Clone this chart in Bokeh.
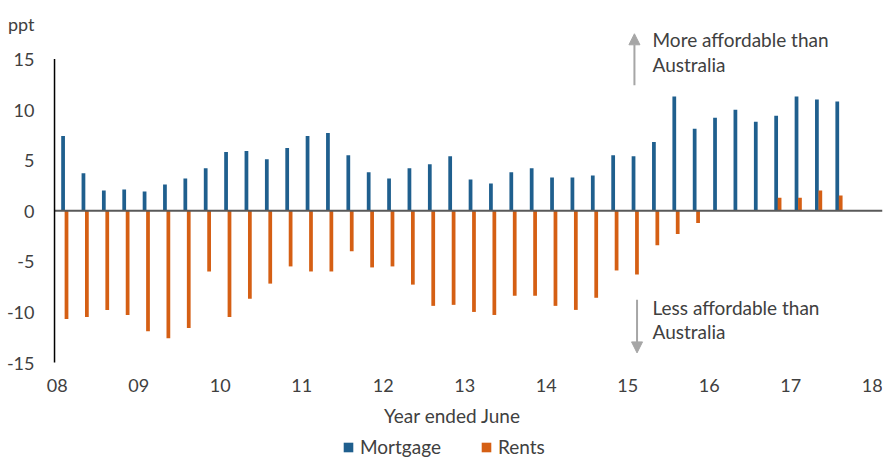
from bokeh.plotting import figure
from bokeh.models import (ColumnDataSource, Label, Arrow, NormalHead, FixedTicker,
                          Legend, LegendItem)
from bokeh.transform import dodge
from bokeh.embed import file_html
from bokeh.resources import INLINE

# Quarterly observations, 2008 onward (year ended June)
start_year = 2008
mortgage = [7.4, 3.7, 2.0, 2.1, 1.9, 2.6, 3.2, 4.2, 5.8, 5.9, 5.1, 6.2,
            7.4, 7.7, 5.5, 3.8, 3.2, 4.2, 4.6, 5.4, 3.1, 2.7, 3.8, 4.2,
            3.3, 3.3, 3.5, 5.5, 5.4, 6.8, 11.3, 8.1, 9.2, 10.0, 8.8, 9.4,
            11.3, 11.0, 10.8]
rents = [-10.7, -10.5, -9.8, -10.3, -11.9, -12.6, -11.6, -6.0, -10.5, -8.7, -7.2, -5.5,
         -6.0, -6.0, -4.0, -5.6, -5.5, -7.3, -9.4, -9.3, -10.0, -10.3, -8.4, -8.4,
         -9.4, -9.8, -8.6, -5.9, -6.3, -3.4, -2.3, -1.2, 0.0, 0.0, 0.0, 1.3,
         1.3, 2.0, 1.5]
year_ticks = list(range(2008, 2019))
year_labels = ["08", "09", "10", "11", "12", "13", "14", "15", "16", "17", "18"]
y_ticks = [-15, -10, -5, 0, 5, 10, 15]
y_labels = ["-15", "-10", "-5", "0", "5", "10", "15"]
unit_label = "ppt"
unit_pos = 18.5
x_title = "Year ended June"

x_pos = [start_year + 0.25 * i for i in range(len(mortgage))]
src = ColumnDataSource(dict(x=x_pos, mortgage=mortgage, rents=rents))

BLUE = "#1F5F8E"
ORANGE = "#D55F14"
TXT = "#404040"
GREY = "#A6A6A6"
FONT = "Lato"

p = figure(frame_width=838, frame_height=451,
           x_range=(2007.844, 2018.127), y_range=(-24.59, 20),
           output_backend="svg", toolbar_location=None,
           min_border_left=44, min_border_top=8, min_border_right=2,
           min_border_bottom=0)
p.outline_line_color = None
p.grid.grid_line_color = None
p.background_fill_color = None
p.border_fill_color = "white"

bw = 0.046
r1 = p.vbar(x=dodge("x", 0.072, range=p.x_range), top="mortgage", width=bw,
            source=src, fill_color=BLUE, line_color=None)
r2 = p.vbar(x=dodge("x", 0.114, range=p.x_range), top="rents", width=bw,
            source=src, fill_color=ORANGE, line_color=None)

# zero line, starting at the vertical axis
axis_x = 2007.967
p.segment(x0=[axis_x], y0=[0], x1=[p.x_range.end], y1=[0],
          line_color="#595959", line_width=2)

# vertical axis line, only across the tick range
p.segment(x0=[axis_x], y0=[min(y_ticks)], x1=[axis_x], y1=[max(y_ticks)],
          line_color="black", line_width=1.5)

# axes
p.xaxis.fixed_location = min(y_ticks)
p.xaxis.ticker = FixedTicker(ticks=year_ticks)
p.xaxis.major_label_overrides = {t: l for t, l in zip(year_ticks, year_labels)}
p.xaxis.axis_line_color = None
p.xaxis.major_tick_line_color = None
p.xaxis.minor_tick_line_color = None
p.xaxis.major_label_standoff = 10

p.yaxis.ticker = FixedTicker(ticks=y_ticks + [unit_pos])
overrides = {t: l for t, l in zip(y_ticks, y_labels)}
overrides[unit_pos] = unit_label
p.yaxis.major_label_overrides = overrides
p.yaxis.axis_line_color = None
p.yaxis.major_tick_line_color = None
p.yaxis.minor_tick_line_color = None
p.yaxis.major_label_standoff = 4

for ax in (p.xaxis[0], p.yaxis[0]):
    ax.major_label_text_font = FONT
    ax.major_label_text_font_size = "18px"
    ax.major_label_text_color = TXT

# x-axis title
p.add_layout(Label(x=2012.85, y=-20.27, text=x_title, text_font=FONT, text_font_size="19px",
                   text_color=TXT, text_align="center", text_baseline="middle"))

# annotations
head = dict(size=11, fill_color=GREY, line_color=GREY)
p.add_layout(Arrow(end=NormalHead(**head), x_start=2015.083, y_start=12.4,
                   x_end=2015.083, y_end=17.5, line_color=GREY, line_width=2))
p.add_layout(Arrow(end=NormalHead(**head), x_start=2015.115, y_start=-8.8,
                   x_end=2015.115, y_end=-14.05, line_color=GREY, line_width=2))
for txt, yy in [("More affordable than", 16.9), ("Australia", 14.5),
                ("Less affordable than", -9.6), ("Australia", -11.97)]:
    p.add_layout(Label(x=2015.305, y=yy, text=txt, text_font=FONT, text_font_size="19px",
                       text_color=TXT, text_baseline="middle"))

legend = Legend(items=[LegendItem(label="Mortgage", renderers=[r1]),
                       LegendItem(label="Rents", renderers=[r2])],
                orientation="horizontal", location=(298, 1),
                label_text_font=FONT, label_text_font_size="19px", label_text_color=TXT,
                glyph_width=12, glyph_height=12, spacing=39, label_standoff=6,
                border_line_color=None, background_fill_alpha=0, padding=0, margin=0,
                label_height=16)
p.add_layout(legend, "center")

open("out.html", "w").write(file_html(p, INLINE))
